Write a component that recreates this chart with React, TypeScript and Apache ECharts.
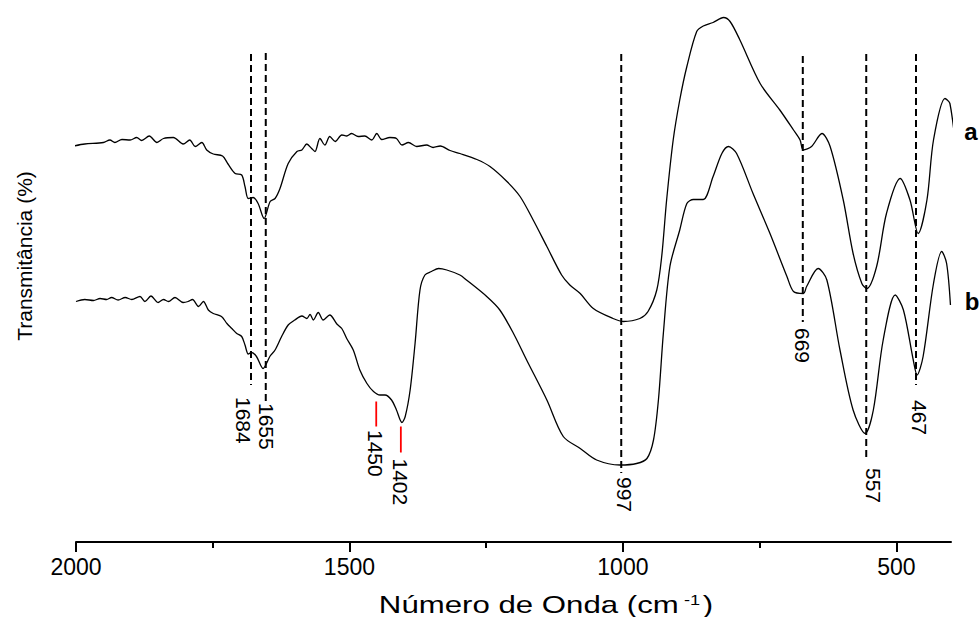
import React, { useEffect, useRef } from 'react';
import * as echarts from 'echarts';

// Spectrum a (upper trace): wavenumber (cm-1) and transmittance (arbitrary units)
const wnA = [2004,1984,1950,1938,1929,1916,1901,1889,1880,1866,1852,1840,1822,1804,1792,1782,1770,1761,1749,1732,1722,1709,1697,1691,1685,1676,1667,1656,1645,1636,1627,1612,1596,1587,1578,1569,1563,1554,1545,1536,1526,1514,1505,1496,1484,1472,1459,1450,1441,1426,1414,1404,1392,1377,1359,1347,1334,1316,1298,1267,1243,1212,1188,1164,1139,1112,1097,1078,1054,1018,999,969,954,938,929,920,908,896,883,865,853,835,816,804,786,749,713,688,676,670,655,636,621,597,579,563,554,536,518,493,475,460,444,432,411,402,390];
const tA = [79.2,79.6,79.9,80.4,79.9,80.5,80.4,80.9,80.3,81.2,79.9,80.7,80.9,79.6,80.4,79.1,79.9,78.4,77.6,77.2,75.6,73.7,73.4,71.1,68.7,68.9,67.7,64.7,68.1,68.7,70.7,75.7,78.1,78.4,79.6,78.7,78.1,80.7,79.4,81.1,80.1,81.4,81.2,81.7,81.1,81.2,80.4,81.7,80.5,80.9,80.7,79.4,79.9,79.1,79.4,78.9,79.2,78.3,77.7,76.5,75.1,72.1,69.1,64.4,59.1,53.4,51.4,49.7,46.7,44.7,44.1,44.7,46.1,50.4,57.1,68.4,80.4,88.4,95.1,102.1,103.2,103.9,104.9,104.1,100.4,91.7,86.4,82.4,80.4,78.4,79.1,81.7,79.1,68.4,57.7,51.7,50.7,55.1,65.7,72.7,68.4,61.7,68.4,80.4,88.7,87.7,77.4];

// Spectrum b (lower trace)
const wnB = [2000,1984,1968,1956,1944,1935,1923,1910,1898,1883,1874,1863,1850,1840,1831,1819,1804,1795,1787,1776,1767,1758,1749,1734,1724,1715,1706,1697,1691,1685,1679,1670,1658,1645,1636,1624,1612,1600,1587,1578,1572,1566,1557,1548,1536,1523,1514,1505,1493,1481,1468,1456,1444,1435,1423,1414,1404,1398,1389,1380,1371,1362,1350,1337,1322,1298,1286,1249,1225,1200,1176,1139,1109,1078,1048,1005,975,956,944,935,926,914,896,883,871,853,835,819,807,792,762,731,700,688,670,664,643,627,603,579,557,542,524,502,487,469,462,451,432,417,408,401];
const tB = [48.1,48.5,48.3,48.7,48.5,48.9,48.4,48.9,48.5,49.1,48.1,49.2,47.9,48.5,48.1,48.9,47.9,48.1,48.5,47.1,48.1,46.4,45.7,45.1,43.7,42.7,41.7,41.1,39.4,37.6,37.9,37.1,34.7,37.2,38.4,41.1,43.4,44.4,45.2,44.7,45.5,44.4,45.9,44.4,45.4,43.6,42.7,40.7,38.4,34.4,31.7,30.1,29.4,29.4,28.4,26.4,23.9,25.1,30.4,39.7,50.4,53.4,54.1,54.7,54.4,53.4,52.4,49.1,46.4,41.7,36.4,28.4,21.1,18.7,16.4,15.4,15.7,16.7,20.4,28.4,41.7,55.1,62.4,67.7,68.5,68.5,73.1,77.7,79.1,77.7,69.7,61.7,53.1,50.1,49.7,51.1,54.7,52.4,38.4,26.4,21.7,26.4,40.4,49.4,46.4,36.4,33.4,37.1,51.7,58.1,55.7,47.4];

// Dashed peak markers
const peakLabels = ['1684', '1655', '997', '669', '557', '467'];
const peakLineAt = [1680, 1653, 1003, 671, 555, 464];
const peakLineTop = [97.6, 97.8, 97.6, 97.2, 97.6, 97.6];
const peakLineBottom = [31.4, 27.6, 13.8, 44.0, 17.0, 31.4];
const peakLabelAt = [1694, 1651, 997, 672, 541, 458];
const peakLabelTop = [29.0, 27.8, 13.0, 42.8, 14.8, 28.4];

// Red markers
const redLabels = ['1450', '1402'];
const redLineAt = [1451, 1406];
const redLineTop = [28.1, 23.1];
const redLineBottom = [23.1, 17.9];
const redLabelAt = [1452, 1407];
const redLabelTop = [22.4, 16.7];

// Axis ticks
const majorTicks = [2000, 1500, 1000, 500];
const minorTicks = [1750, 1250, 750];

const FONT = '"Liberation Sans", Arial, sans-serif';

export default function App() {
  const ref = useRef<HTMLDivElement>(null);
  useEffect(() => {
    const chart = echarts.init(ref.current as HTMLDivElement, null, { renderer: 'svg' });
    const series: any[] = [];
    const traceStyle = { color: '#000', width: 1.3 };
    series.push({
      type: 'line', data: wnA.map((x, i) => [x, tA[i]]), symbol: 'none', smooth: 0.3,
      clip: false, lineStyle: traceStyle, silent: true, z: 2,
    });
    series.push({
      type: 'line', data: wnB.map((x, i) => [x, tB[i]]), symbol: 'none', smooth: 0.3,
      clip: false, lineStyle: traceStyle, silent: true, z: 2,
    });
    peakLineAt.forEach((x, i) => {
      series.push({
        type: 'line', data: [[x, peakLineTop[i]], [x, peakLineBottom[i]]], symbol: 'none',
        lineStyle: { color: '#000', width: 2, type: [7, 4] }, silent: true, z: 3,
      });
    });
    redLineAt.forEach((x, i) => {
      series.push({
        type: 'line', data: [[x, redLineTop[i]], [x, redLineBottom[i]]], symbol: 'none',
        lineStyle: { color: '#ff0000', width: 1.8 }, silent: true, z: 3,
      });
    });
    const allLabels = peakLabels.concat(redLabels);
    const labelData = peakLabelAt.map((x, i) => [x, peakLabelTop[i], i])
      .concat(redLabelAt.map((x, i) => [x, redLabelTop[i], peakLabels.length + i]));
    series.push({
      type: 'custom', data: labelData, silent: true, z: 4, clip: false,
      renderItem: (params: any, api: any) => {
        const p = api.coord([api.value(0), api.value(1)]);
        return {
          type: 'text', x: p[0], y: p[1], rotation: -Math.PI / 2,
          style: {
            text: allLabels[api.value(2)], fontSize: 21, fontFamily: FONT, fill: '#000',
            align: 'left', verticalAlign: 'middle',
          },
        };
      },
    });

    chart.setOption({
      animation: false,
      backgroundColor: '#fff',
      grid: { left: 76, right: 28, top: 2, bottom: 75 },
      xAxis: [
        {
          type: 'value', inverse: true, min: 400, max: 2000, position: 'bottom',
          axisLine: { show: true, lineStyle: { color: '#000', width: 2 } },
          axisTick: { show: true, customValues: majorTicks, length: 10, lineStyle: { color: '#000', width: 2 } },
          axisLabel: {
            show: true, customValues: majorTicks, fontSize: 23, fontFamily: FONT, color: '#000', margin: 13,
            formatter: (v: number) => String(v),
          },
          splitLine: { show: false },
        },
        {
          type: 'value', inverse: true, min: 400, max: 2000, position: 'bottom', offset: 0,
          axisLine: { show: false },
          axisTick: { show: true, customValues: minorTicks, length: 6, lineStyle: { color: '#000', width: 2 } },
          axisLabel: { show: false },
          splitLine: { show: false },
        },
      ],
      yAxis: { type: 'value', min: 0, max: 108, show: false },
      series,
      graphic: [
        {
          type: 'text', x: 24, y: 256, rotation: Math.PI / 2,
          style: { text: 'Transmitância (%)', fontSize: 21, fontFamily: FONT, fill: '#000', align: 'center', verticalAlign: 'middle' },
        },
        {
          type: 'text', x: 546, y: 605, scaleX: 1.3,
          style: {
            text: 'Número de Onda (cm{sup|-1})', fontSize: 24, fontFamily: FONT, fill: '#000',
            align: 'center', verticalAlign: 'middle',
            rich: { sup: { fontSize: 14, fontFamily: FONT, fill: '#000', verticalAlign: 'top', padding: [0, 2, 10, 4] } },
          },
        },
        {
          type: 'text', x: 971, y: 131,
          style: { text: 'a', fontSize: 24, fontWeight: 'bold', fontFamily: FONT, fill: '#000', align: 'center', verticalAlign: 'middle' },
        },
        {
          type: 'text', x: 972, y: 301,
          style: { text: 'b', fontSize: 24, fontWeight: 'bold', fontFamily: FONT, fill: '#000', align: 'center', verticalAlign: 'middle' },
        },
      ],
    });
    return () => chart.dispose();
  }, []);
  return <div ref={ref} style={{ position: 'absolute', left: 0, top: 0, width: 979, height: 617 }} />;
}
